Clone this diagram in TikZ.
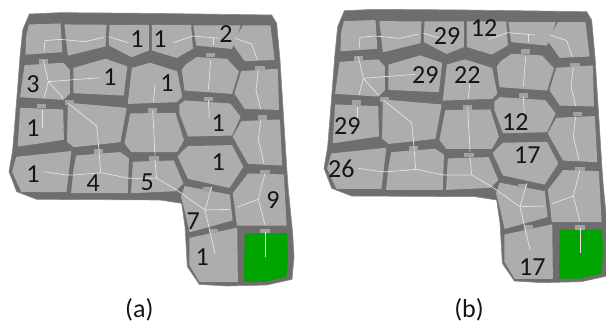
\documentclass[tikz,border=0pt]{standalone}
\usepackage{fontspec}
\setmainfont{Carlito}
\definecolor{wallc}{HTML}{6E6E6E}
\definecolor{bandc}{HTML}{8A8A8A}
\definecolor{cellc}{HTML}{ADADAD}
\definecolor{greenc}{HTML}{00A400}
\definecolor{routec}{HTML}{E4E4E4}
\definecolor{doorc}{HTML}{A2A2A2}
\definecolor{textc}{HTML}{151515}
\tikzset{
  wall/.style={fill=wallc,draw=bandc,line width=0.6pt,line join=round},
  cellp/.style={fill=cellc,draw=cellc,line width=1.1pt,line join=round},
  goal/.style={fill=greenc,draw=greenc,line width=0.6pt,line join=round},
  route/.style={draw=routec,line width=0.7pt},
  door/.style={fill=doorc,draw=none},
  num/.style={font=\fontsize{26}{26}\selectfont,text=textc,inner sep=0pt},
  captext/.style={font=\fontsize{26}{26}\selectfont,text=textc,inner sep=0pt}
}
\newcommand{\floorplan}{%
  \draw[wall] (88,42)--(180,38)--(450,40)--(815,45)--(830,70)--(840,180)--(850,340)--(860,500)--(865,570)--(878,700)--(882,770)--(876,838)--(800,855)--(680,858)--(598,853)--(562,800)--(555,680)--(545,610)--(480,600)--(110,598)--(50,575)--(27,515)--(38,450)--(50,300)--(60,170)--(68,90)--cycle;
  \fill[cellp] (88,75)--(180,72)--(185,155)--(78,162)--(80,110)--cycle;
  \fill[cellp] (195,75)--(318,76)--(315,138)--(205,165)--cycle;
  \fill[cellp] (330,76)--(445,76)--(445,150)--(395,170)--(328,135)--cycle;
  \fill[cellp] (457,76)--(572,76)--(577,145)--(530,172)--(457,150)--cycle;
  \fill[cellp] (582,78)--(720,78)--(695,145)--(590,135)--cycle;
  \fill[cellp] (730,78)--(810,78)--(822,178)--(735,182)--(698,130)--cycle;
  \fill[cellp] (75,197)--(190,190)--(208,210)--(208,280)--(190,298)--(62,290)--cycle;
  \fill[cellp] (222,205)--(316,178)--(380,200)--(370,285)--(222,278)--cycle;
  \fill[cellp] (397,205)--(450,190)--(530,215)--(545,290)--(530,305)--(385,310)--cycle;
  \fill[cellp] (558,195)--(590,173)--(680,178)--(715,215)--(695,280)--(555,270)--(547,210)--cycle;
  \fill[cellp] (725,215)--(832,208)--(835,328)--(735,325)--(705,280)--cycle;
  \fill[cellp] (62,325)--(188,330)--(190,418)--(55,438)--cycle;
  \fill[cellp] (205,310)--(378,325)--(360,425)--(222,440)--(203,425)--cycle;
  \fill[cellp] (392,342)--(525,340)--(550,420)--(530,455)--(395,455)--(375,430)--cycle;
  \fill[cellp] (540,315)--(555,303)--(690,312)--(720,350)--(695,405)--(565,408)--(540,340)--cycle;
  \fill[cellp] (725,365)--(838,360)--(845,495)--(745,490)--(700,410)--cycle;
  \fill[cellp] (50,472)--(212,455)--(198,575)--(65,575)--(38,515)--cycle;
  \fill[cellp] (230,468)--(360,458)--(385,475)--(382,578)--(215,578)--(222,510)--cycle;
  \fill[cellp] (400,487)--(520,483)--(548,550)--(525,572)--(395,578)--cycle;
  \fill[cellp] (548,455)--(565,440)--(695,437)--(728,500)--(688,562)--(565,535)--(535,470)--cycle;
  \fill[cellp] (555,560)--(688,585)--(696,660)--(570,695)--(560,650)--(545,590)--cycle;
  \fill[cellp] (700,580)--(745,522)--(850,525)--(858,675)--(712,675)--(705,615)--cycle;
  \fill[cellp] (570,715)--(710,685)--(712,845)--(600,845)--(570,795)--cycle;
  \fill[goal] (735,700)--(860,700)--(863,770)--(858,830)--(790,845)--(733,845)--cycle;
  \foreach \x/\y in {130/185,125/318,632/165,625/297,780/205,787/352,458/332,295/455,462/475,208/308,622/568,795/517,795/693,640/693}
    {\fill[door] (\x-14,\y-7) rectangle (\x+14,\y+7);}
  \draw[route] (132,155)--(135,122)--(180,118)--(255,125)--(312,112);
  \draw[route] (325,110)--(385,128);
  \draw[route] (520,128)--(578,108)--(660,115);
  \draw[route] (640,115)--(640,135);
  \draw[route] (705,115)--(755,132)--(772,180);
  \draw[route] (130,180)--(145,245)--(132,295);
  \draw[route] (145,245)--(300,233);
  \draw[route] (145,245)--(190,295);
  \draw[route] (205,310)--(290,378)--(297,450)--(302,518);
  \draw[route] (130,515)--(200,525)--(222,525)--(305,518)--(385,535)--(470,535);
  \draw[route] (465,480)--(470,535)--(530,570)--(615,630)--(690,628);
  \draw[route] (635,560)--(615,630)--(645,760);
  \draw[route] (795,520)--(775,598)--(710,622);
  \draw[route] (775,598)--(795,675);
  \draw[route] (795,695)--(795,770);
  \draw[route] (127,330)--(127,385);
  \draw[route] (465,255)--(460,305);
  \draw[route] (458,330)--(465,465);
  \draw[route] (632,180)--(625,270);
  \draw[route] (625,300)--(628,355);
  \draw[route] (775,210)--(768,270)--(782,328);
  \draw[route] (782,360)--(775,420)--(792,490);
}
\begin{document}
\begin{tikzpicture}[x=0.3333pt,y=-0.3333pt]
\useasboundingbox (0,0) rectangle (1818,975);
\begin{scope}
  \floorplan
\end{scope}
\begin{scope}[shift={(945,-10)}]
  \floorplan
\end{scope}
\node[num] (a1) at (411,118) {1};
\node[num] (a2) at (480,118) {1};
\node[num] (a3) at (678,103) {2};
\node[num] (a4) at (99,252) {3};
\node[num] (a5) at (330,232) {1};
\node[num] (a6) at (501,248) {1};
\node[num] (a7) at (99,383) {1};
\node[num] (a8) at (655,370) {1};
\node[num] (a9) at (99,522) {1};
\node[num] (a10) at (280,550) {4};
\node[num] (a11) at (442,548) {5};
\node[num] (a12) at (655,485) {1};
\node[num] (a13) at (819,600) {9};
\node[num] (a14) at (580,663) {7};
\node[num] (a15) at (607,772) {1};
\node[captext] (capa) at (418,930) {(a)};
\node[num] (b1) at (1341,108) {29};
\node[num] (b2) at (1452,85) {12};
\node[num] (b3) at (1276,224) {29};
\node[num] (b4) at (1402,224) {22};
\node[num] (b5) at (1042,378) {29};
\node[num] (b6) at (1546,367) {12};
\node[num] (b7) at (1582,465) {17};
\node[num] (b8) at (1024,507) {26};
\node[num] (b9) at (1597,802) {17};
\node[captext] (capb) at (1407,930) {(b)};
\end{tikzpicture}
\end{document}
